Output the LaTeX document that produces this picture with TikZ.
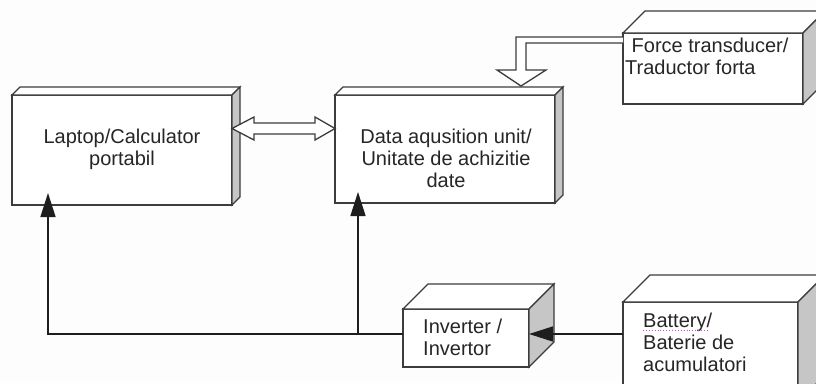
\documentclass[tikz,border=0pt]{standalone}
\usepackage{fontspec}
\setmainfont{Liberation Sans}
\usetikzlibrary{calc,arrows.meta}

\definecolor{edge}{HTML}{3C3C3C}
\definecolor{sideface}{HTML}{C6C6C6}
\definecolor{wirecol}{HTML}{1E1E1E}
\definecolor{spell}{HTML}{D048D0}
\definecolor{bg}{HTML}{FDFDFD}

% top and right faces of a block whose front face is node #1, depth #2
\newcommand{\cuboid}[2]{%
  \filldraw[cubeface] (#1.north west) -- ++(#2,-#2) -- ($(#1.north east)+(#2,-#2)$) -- (#1.north east) -- cycle;
  \filldraw[cubeface, fill=sideface] (#1.north east) -- ++(#2,-#2) -- ($(#1.south east)+(#2,-#2)$) -- (#1.south east) -- cycle;
}

\begin{document}
\begin{tikzpicture}[x=1pt,y=-1pt,
  frontface/.style={draw=edge, fill=white, line width=1.3pt, inner sep=0pt, outer sep=0pt, anchor=north west},
  cubeface/.style={draw=edge, fill=white, line width=1.3pt, line join=miter},
  boxtext/.style={font=\fontsize{20}{22}\selectfont, text=black!85, inner sep=0pt, anchor=north},
  wireline/.style={draw=wirecol, line width=1.5pt},
  feed/.style={-{Triangle[length=24pt,width=15pt]}},
  hollow/.style={draw=edge, fill=white, line width=1.3pt, line join=miter},
  spellmark/.style={draw=spell, dotted, line width=0.9pt}]

\useasboundingbox (0,0) rectangle (816,383);
\clip (0,0) rectangle (816,383);
\fill[bg] (0,0) rectangle (816,383);

% blocks (front faces)
\node[frontface, minimum width=220pt, minimum height=110pt] (laptop) at (12,95) {};
\node[frontface, minimum width=220pt, minimum height=108pt] (daq) at (335,95) {};
\node[frontface, minimum width=180pt, minimum height=71pt] (force) at (623,33) {};
\node[frontface, minimum width=126pt, minimum height=58pt] (inverter) at (403,309) {};
\node[frontface, minimum width=175pt, minimum height=100pt] (battery) at (623,302) {};

\cuboid{laptop}{8}
\cuboid{daq}{8}
\cuboid{force}{22}
\cuboid{inverter}{25}
\cuboid{battery}{27}

% block texts
\node[boxtext, align=center] (laptopText) at (122,128.5) {Laptop/Calculator\\portabil};
\node[boxtext, align=center] (daqText) at (446,128.5) {Data aqusition unit/\\Unitate de achizitie\\date};
\node[boxtext, align=left, anchor=north west] (forceText) at (625,37.5) {\hspace*{6.5pt}Force transducer/\\Traductor forta};
\node[boxtext, align=left, anchor=north west] (inverterText) at (423,318.5) {Inverter /\\Invertor};
\node[boxtext, align=left, anchor=north west] (batteryText) at (643,313) {Battery/\\Baterie de\\acumulatori};
\draw[spellmark] ($(batteryText.north west)+(0,17)$) -- ++(65,0);

% power wiring
\coordinate (tap) at ([yshift=4pt]inverter.west);
\coordinate (lapIn) at ([xshift=36pt]laptop.south west);
\coordinate (daqIn) at ([xshift=23pt]daq.south west);
\draw[wireline, feed, shorten >=-12pt] (tap) -| (lapIn);
\draw[wireline, feed, shorten >=-11pt] (tap -| daqIn) -- (daqIn);
\draw[wireline, feed] (battery.west |- tap) -- (inverter.east |- tap);

% data link laptop <-> acquisition unit
\coordinate (dL) at ([yshift=21.5pt]laptop.east);
\coordinate (dR) at (dL -| daq.west);
\draw[hollow] (dL) -- ++(22,-11.5) -- ++(0,6) -- ($(dR)+(-20,-5.5)$) -- ++(0,-6) -- (dR)
  -- ++(-20,11.5) -- ++(0,-6) -- ($(dL)+(22,5.5)$) -- ++(0,6) -- cycle;

% signal from the force transducer
\coordinate (fOut) at ([yshift=-4pt]force.north west);
\coordinate (fTip) at ($(daq.north west)+(186,-9)$);
\draw[hollow] (fOut) -| ($(fTip)+(-5,-16)$) -- ++(-19,0) -- (fTip) -- ++(25,-16) -- ++(-20,0)
  |- ($(fOut)+(0,6)$);
\end{tikzpicture}
\end{document}
